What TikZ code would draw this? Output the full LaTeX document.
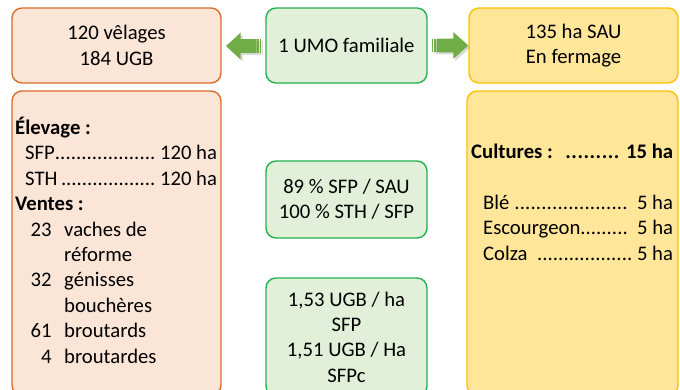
\documentclass[tikz,border=0pt]{standalone}
\usepackage{fontspec}
\setmainfont{Carlito}
\usetikzlibrary{calc,shadows}
\definecolor{orangeline}{HTML}{D86D2A}
\definecolor{orangefill}{HTML}{FBE5D6}
\definecolor{greenline}{HTML}{22B14C}
\definecolor{greenfill}{HTML}{E2F0D9}
\definecolor{yellowline}{HTML}{FFC000}
\definecolor{yellowfill}{HTML}{FFE699}
\definecolor{arrowgreen}{HTML}{70AD47}
\newcommand{\boxfont}{\fontsize{20.7}{25.4}\selectfont}
\newcommand{\dotrow}[3]{\hbox to #1{#2\xleaders\hbox{.}\hfill#3}}
\tikzset{
  box/.style={rounded corners=10pt, line width=1.4pt, inner sep=0pt, font=\boxfont},
  obox/.style={box, draw=orangeline, fill=orangefill},
  gbox/.style={box, draw=greenline, fill=greenfill},
  ybox/.style={box, draw=yellowline, fill=yellowfill},
  txt/.style={inner sep=0pt, font=\boxfont, align=left, anchor=north west},
  blockarrow/.style={fill=arrowgreen, drop shadow={shadow xshift=2pt, shadow yshift=-2pt, opacity=.3}}
}

\begin{document}
\begin{tikzpicture}[x=1pt, y=-1pt]
	\useasboundingbox (0,0) rectangle (680,389);
	% top row
	\node[obox, minimum width=209pt, minimum height=75pt, align=center] (velages) at (116.5,45.5) {120 vêlages\\184 UGB};
	\node[gbox, minimum width=161pt, minimum height=75pt] (umo) at (346.5,45.5) {1 UMO familiale};
	\node[ybox, minimum width=209pt, minimum height=75pt, align=center] (sau) at (573.5,45.5) {135 ha SAU\\En fermage};
	% lower boxes
	\node[obox, minimum width=209pt, minimum height=304pt] (elevage) at (116.5,243) {};
	\node[ybox, minimum width=211pt, minimum height=304pt] (cultures) at (572.5,243) {};
	\node[gbox, minimum width=161pt, minimum height=77pt, align=center] (ratio) at (346.5,199.5) {89 \% SFP / SAU\\100 \% STH / SFP};
	\node[gbox, minimum width=161pt, minimum height=118pt, align=center] (charge) at (346.5,337) {1,53 UGB / ha\\SFP\\1,51 UGB / Ha\\SFPc};
	% texts
	\node[txt] (elevtxt) at (15,117) {\textbf{Élevage :}\\
		\hspace*{10pt}\dotrow{192pt}{SFP}{ 120 ha}\\
		\hspace*{10pt}\dotrow{192pt}{STH\,}{ 120 ha}\\
		\textbf{Ventes :}\\
		\makebox[36.5pt][r]{23}\hspace{12.5pt}vaches de\\
		\hspace*{49pt}réforme\\
		\makebox[36.5pt][r]{32}\hspace{12.5pt}génisses\\
		\hspace*{49pt}bouchères\\
		\makebox[36.5pt][r]{61}\hspace{12.5pt}broutards\\
		\makebox[36.5pt][r]{4}\hspace{12.5pt}broutardes};
	\node[txt] (cultxt) at (471,144) {\textbf{\dotrow{202pt}{Cultures :\hspace{12pt}}{ 15 ha}}\\
		\mbox{}\\
		\hspace*{12pt}\dotrow{190pt}{Blé }{\ \ 5 ha}\\
		\hspace*{12pt}\dotrow{190pt}{Escourgeon}{\ \ 5 ha}\\
		\hspace*{12pt}\dotrow{190pt}{Colza\ \ }{ 5 ha}};
	% arrows
	\begin{scope}[shift={($(velages.east)!.5!(umo.west)$)}]
		\fill[blockarrow] (-17.5,0.5) -- (-3,-12.8) -- (-3,-6.3) -- (13,-6.3) -- (13,7.3) -- (-3,7.3) -- (-3,13.8) -- cycle;
		\fill[blockarrow] (13.7,-6.3) rectangle (15,7.3);
		\fill[blockarrow] (16.5,-6.3) rectangle (17.8,7.3);
	\end{scope}
	\begin{scope}[shift={($(umo.east)!.5!(sau.west)$)}]
		\fill[blockarrow] (20.3,0) -- (5.3,-13.4) -- (5.3,-6.8) -- (-11.5,-6.8) -- (-11.5,6.8) -- (5.3,6.8) -- (5.3,13.4) -- cycle;
		\fill[blockarrow] (-16.3,-6.8) rectangle (-15,6.8);
		\fill[blockarrow] (-14,-6.8) rectangle (-12.5,6.8);
	\end{scope}
\end{tikzpicture}
\end{document}
